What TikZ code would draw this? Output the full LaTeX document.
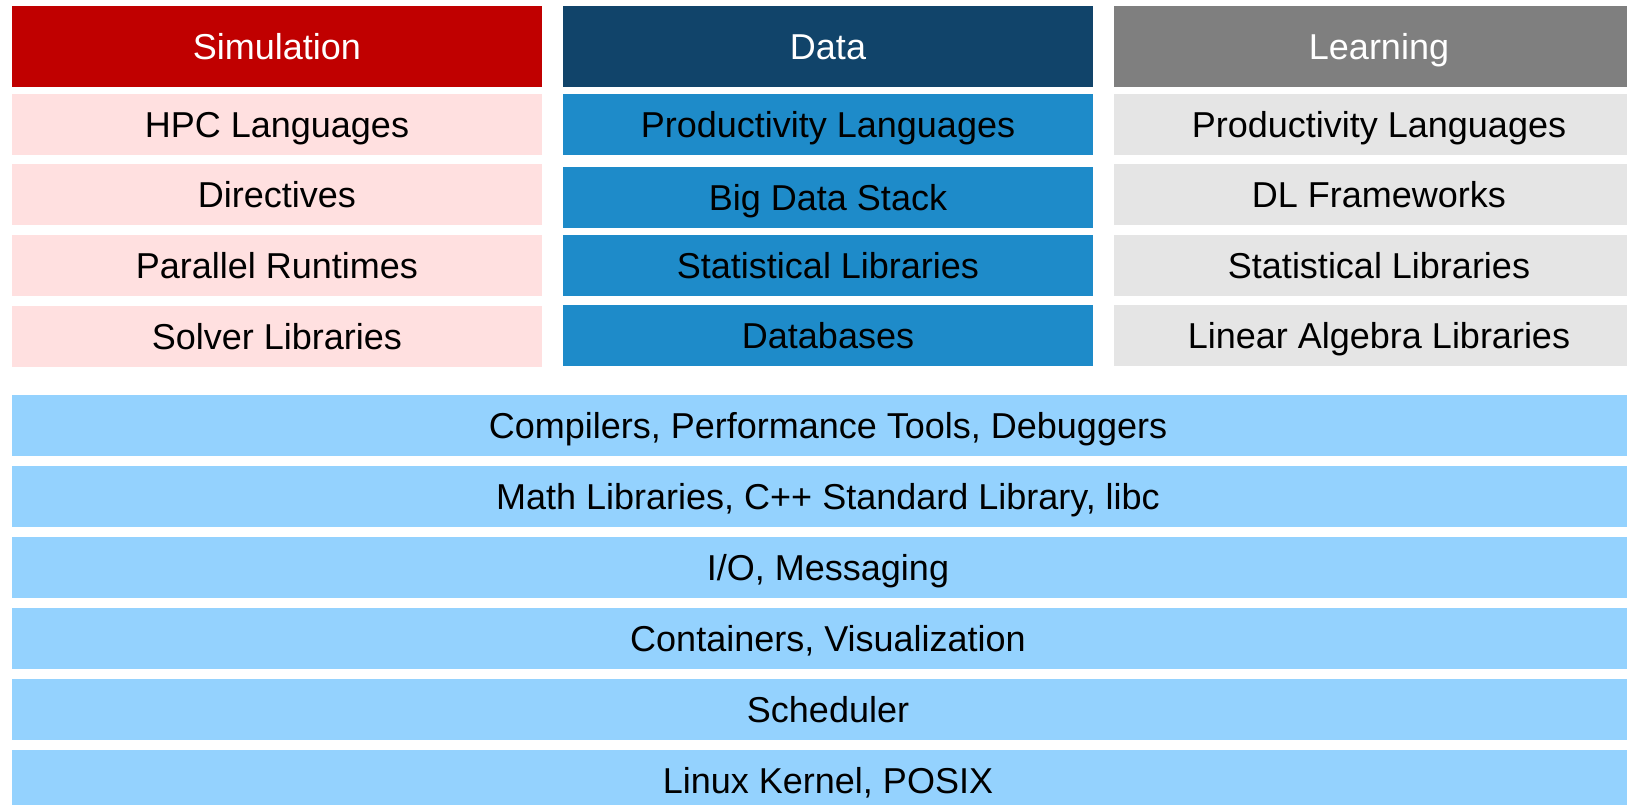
\documentclass[tikz,border=0pt]{standalone}
\usepackage{fontspec}
\setmainfont{Liberation Sans}
\definecolor{simhead}{HTML}{C00000}
\definecolor{simrow}{HTML}{FFE0E0}
\definecolor{datahead}{HTML}{11446A}
\definecolor{datarow}{HTML}{1E8BC9}
\definecolor{learnhead}{HTML}{7F7F7F}
\definecolor{learnrow}{HTML}{E5E5E5}
\definecolor{basebar}{HTML}{94D2FE}
\begin{document}
\begin{tikzpicture}[x=1pt,y=-1pt,
  cell/.style={rectangle, inner sep=0pt, outer sep=0pt, draw=none,
    font=\fontsize{36}{40}\selectfont, text height=25.8pt, text depth=0pt},
  headbox/.style={cell, minimum height=80.7pt, text=white},
  rowbox/.style={cell, minimum height=60.5pt, text=black},
  colbox/.style={minimum width=530pt},
  barbox/.style={cell, minimum width=1632pt, minimum height=61pt, fill=basebar, text=black}]
\useasboundingbox (0,0) rectangle (1627,805);
\clip (0,0) rectangle (1627,805);
% Simulation column
\node[headbox, colbox, fill=simhead] (simH) at (277,46.3) {Simulation};
\node[rowbox, colbox, fill=simrow] (sim1) at (277,124.5) {HPC Languages};
\node[rowbox, colbox, fill=simrow] (sim2) at (277,194.3) {Directives};
\node[rowbox, colbox, fill=simrow] (sim3) at (277,265.5) {Parallel Runtimes};
\node[rowbox, colbox, fill=simrow] (sim4) at (277,336.3) {Solver Libraries};
% Data column
\node[headbox, colbox, fill=datahead] (datH) at (828,46.3) {Data};
\node[rowbox, colbox, fill=datarow] (dat1) at (828,124.5) {Productivity Languages};
\node[rowbox, colbox, fill=datarow] (dat2) at (828,197.3) {Big Data Stack};
\node[rowbox, colbox, fill=datarow] (dat3) at (828,265.3) {Statistical Libraries};
\node[rowbox, colbox, fill=datarow] (dat4) at (828,335.3) {Databases};
% Learning column
\node[headbox, colbox, fill=learnhead] (lrnH) at (1379,46.3) {Learning};
\node[rowbox, colbox, fill=learnrow] (lrn1) at (1379,124.5) {Productivity Languages};
\node[rowbox, colbox, fill=learnrow] (lrn2) at (1379,194.3) {DL Frameworks};
\node[rowbox, colbox, fill=learnrow] (lrn3) at (1379,265.3) {Statistical Libraries};
\node[rowbox, colbox, fill=learnrow] (lrn4) at (1379,335.3) {Linear Algebra Libraries};
% Common base layers
\node[barbox] (bar1) at (828,425.5) {Compilers, Performance Tools, Debuggers};
\node[barbox] (bar2) at (828,496.5) {Math Libraries, C++ Standard Library, libc};
\node[barbox] (bar3) at (828,567.5) {I/O, Messaging};
\node[barbox] (bar4) at (828,638.5) {Containers, Visualization};
\node[barbox] (bar5) at (828,709.5) {Scheduler};
\node[barbox] (bar6) at (828,780.5) {Linux Kernel, POSIX};
\end{tikzpicture}
\end{document}
